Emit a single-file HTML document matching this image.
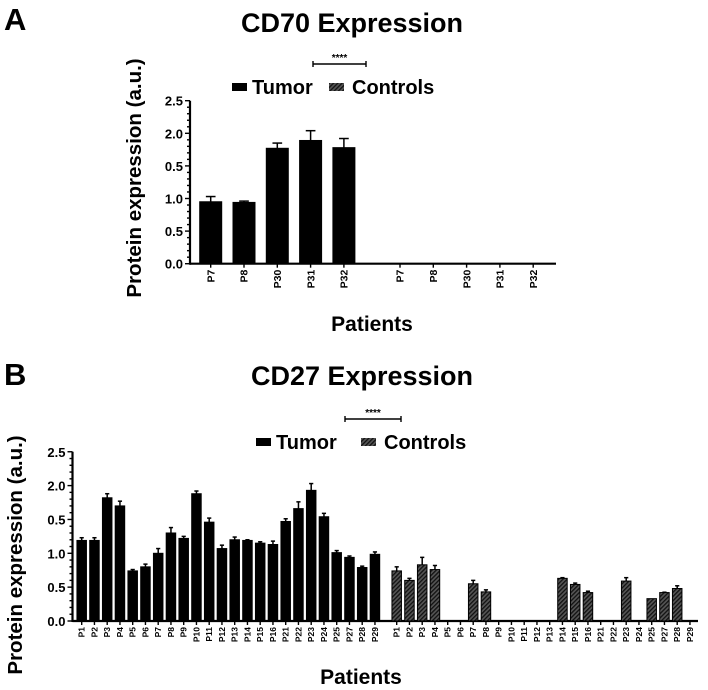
<!DOCTYPE html>
<html><head><meta charset="utf-8"><style>
body{margin:0;background:#fff}
svg{display:block;font-family:"Liberation Sans",Arial,sans-serif;font-weight:bold}
</style></head><body>
<svg id="fig" width="708" height="690" viewBox="0 0 708 690" xmlns="http://www.w3.org/2000/svg">
<defs>
<pattern id="hatch" patternUnits="userSpaceOnUse" width="3" height="3" patternTransform="rotate(45)">
<rect width="3" height="3" fill="#555"/><rect width="1.3" height="3" fill="#111"/>
</pattern>
</defs>
<text x="4" y="30" font-size="31">A</text>
<text x="352" y="32" font-size="27" text-anchor="middle">CD70 Expression</text>
<text x="4" y="385" font-size="31">B</text>
<text x="362" y="385" font-size="27" text-anchor="middle">CD27 Expression</text>
<g id="gA"></g>
<g id="gB"></g>
</svg>
<script>
// ---- Panel A data ----
const catsA = ["P7","P8","P30","P31","P32"];
const tumorA = [0.95,0.94,1.77,1.89,1.78];
const tumorErrA = [0.08,0.02,0.08,0.15,0.14];
const controlA = [0,0,0,0,0];
const controlErrA = [0,0,0,0,0];
const tickLabelsA = ["0.0","0.5","1.0","0.5","2.0","2.5"];
// ---- Panel B data ----
const catsB = ["P1","P2","P3","P4","P5","P6","P7","P8","P9","P10","P11","P12","P13","P14","P15","P16","P21","P22","P23","P24","P25","P27","P28","P29"];
const tumorB = [1.19,1.19,1.82,1.70,0.74,0.80,1.0,1.30,1.22,1.88,1.46,1.07,1.20,1.19,1.15,1.13,1.47,1.66,1.93,1.54,1.01,0.94,0.79,0.985];
const tumorErrB = [0.04,0.04,0.06,0.07,0.02,0.04,0.07,0.08,0.03,0.04,0.06,0.05,0.04,0.01,0.02,0.05,0.04,0.10,0.10,0.05,0.03,0.02,0.02,0.035];
const controlB = [0.74,0.60,0.83,0.76,0,0,0.55,0.43,0,0,0,0,0,0.63,0.54,0.42,0,0,0.59,0,0.33,0.42,0.48,0];
const controlErrB = [0.06,0.03,0.11,0.06,0,0,0.05,0.03,0,0,0,0,0,0.01,0.02,0.02,0,0,0.05,0,0,0.005,0.04,0];
const tickLabelsB = ["0.0","0.5","1.0","0.5","2.0","2.5"];

const NS="http://www.w3.org/2000/svg";
function mk(parent,tag,attrs){const e=document.createElementNS(NS,tag);for(const k in attrs)e.setAttribute(k,attrs[k]);parent.appendChild(e);return e;}

function drawPanel(g,cfg,cats,tum,tumE,ctl,ctlE,ticks){
  const y=v=>cfg.y0-v*cfg.unit;
  const xT=i=>cfg.xT0+i*cfg.step;
  const xC=i=>cfg.xC0+i*cfg.step;
  let ax=mk(g,"line",{x1:cfg.axX,y1:y(0),x2:cfg.axEnd,y2:y(0),stroke:"#000","stroke-width":2.2});
  
  
  let ay=mk(g,"line",{x1:cfg.axX,y1:y(0)+1,x2:cfg.axX,y2:y(2.5),stroke:"#000","stroke-width":2.2});
  
  
  for(let k=0;k<=25;k++){
    const v=k*0.1,major=k%5===0;
    mk(g,"line",{x1:cfg.axX-(major?5:3),y1:y(v),x2:cfg.axX,y2:y(v),stroke:"#000","stroke-width":1.4});
  }
  ticks.forEach((t,k)=>{
    const e=mk(g,"text",{x:cfg.axX-7,y:y(k*0.5)+5,"font-size":cfg.tickFs,"text-anchor":"end"});
    e.textContent=t;
    
    
  });
  function bars(vals,errs,xf,fill,grp){
    vals.forEach((v,i)=>{
      const cx=xf(i);
      mk(g,"line",{x1:cx,y1:y(0),x2:cx,y2:y(0)+4,stroke:"#000","stroke-width":1.4});
      const lb=mk(g,"text",{transform:`translate(${cx+cfg.lblFs*0.35},${y(0)+6}) rotate(-90)`,"font-size":cfg.lblFs,"text-anchor":"end"});
      lb.textContent=cats[i];
      
      
      if(v>0){
        const top=y(v+errs[i]);
        if(errs[i]>0){
          mk(g,"line",{x1:cx,y1:y(v),x2:cx,y2:top,stroke:"#000","stroke-width":1.5});
          mk(g,"line",{x1:cx-cfg.bw*0.22,y1:top,x2:cx+cfg.bw*0.22,y2:top,stroke:"#000","stroke-width":1.5});
        }
        const r=mk(g,"rect",{x:cx-cfg.bw/2,y:y(v),width:cfg.bw,height:y(0)-y(v),fill:fill,stroke:"#000","stroke-width":1});
        
        
      }
    });
  }
  bars(tum,tumE,xT,"#000","tumor");
  bars(ctl,ctlE,xC,"url(#hatch)","control");
  const yt=mk(g,"text",{transform:`translate(${cfg.ytX},${cfg.ytY}) rotate(-90)`,"font-size":20.5,"text-anchor":"middle"});
  yt.textContent="Protein expression (a.u.)";
  
  
  const xt=mk(g,"text",{x:cfg.xtX,y:cfg.xtY,"font-size":21,"text-anchor":"middle"});
  xt.textContent="Patients";
  
  
  const s=cfg.sig;
  mk(g,"line",{x1:s[0],y1:s[2],x2:s[1],y2:s[2],stroke:"#000","stroke-width":1.4});
  mk(g,"line",{x1:s[0],y1:s[2]-3,x2:s[0],y2:s[2]+3,stroke:"#000","stroke-width":1.4});
  mk(g,"line",{x1:s[1],y1:s[2]-3,x2:s[1],y2:s[2]+3,stroke:"#000","stroke-width":1.4});
  const st=mk(g,"text",{x:(s[0]+s[1])/2,y:s[2]-3,"font-size":10,"text-anchor":"middle"});
  st.textContent="****";
  
  
  const L=cfg.leg;
  const r1=mk(g,"rect",{x:L[0],y:L[2]-5,width:15,height:8,fill:"#000"});
  
  
  const t1=mk(g,"text",{x:L[0]+20,y:L[2]+6,"font-size":20});
  t1.textContent="Tumor";
  
  
  const r2=mk(g,"rect",{x:L[1],y:L[2]-5,width:15,height:8,fill:"url(#hatch)"});
  
  
  const t2=mk(g,"text",{x:L[1]+23,y:L[2]+6,"font-size":20});
  t2.textContent="Controls";
  
  
}
drawPanel(document.getElementById("gA"),
 {y0:263.7,unit:65.2,axX:190,axEnd:556,xT0:210.7,xC0:400,step:33.3,bw:22,tickFs:13,lblFs:10.5,
  ytX:141,ytY:178,xtX:372,xtY:331,sig:[313,366,64],leg:[232,329,88]},
 catsA,tumorA,tumorErrA,controlA,controlErrA,tickLabelsA);
drawPanel(document.getElementById("gB"),
 {y0:621,unit:67.7,axX:72.5,axEnd:698,xT0:81.7,xC0:396.7,step:12.75,bw:9.5,tickFs:13,lblFs:8.5,
  ytX:22,ytY:555,xtX:361,xtY:684,sig:[345,401,419],leg:[256,361,443]},
 catsB,tumorB,tumorErrB,controlB,controlErrB,tickLabelsB);
</script>
</body></html>
